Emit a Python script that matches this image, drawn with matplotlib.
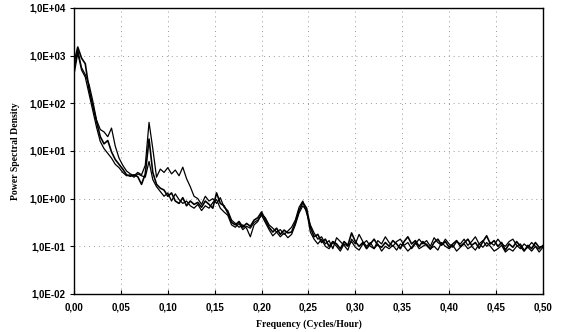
import matplotlib
matplotlib.use("Agg")
import matplotlib.pyplot as plt
from matplotlib.ticker import FuncFormatter, FixedLocator
import numpy as np

# frequency axis (cycles/hour), step 0.004
freq = [round(0.004 * i, 3) for i in range(126)]

# log10 of power spectral density, three records
log_psd_a = [
    2.85, 3.18, 2.95, 2.83, 2.30, 1.95, 1.62, 1.30, 1.15, 1.22,
    0.98, 0.82, 0.72, 0.62, 0.50, 0.47, 0.50, 0.46, 0.30, 0.52,
    1.25, 0.55, 0.30, 0.22, 0.18, 0.05, 0.12, -0.05, -0.10, 0.02,
    -0.15, -0.05, -0.12, -0.08, -0.18, -0.05, -0.12, -0.20, 0.12, -0.10,
    -0.15, -0.30, -0.50, -0.55, -0.48, -0.60, -0.52, -0.58, -0.45, -0.40,
    -0.28, -0.45, -0.60, -0.70, -0.62, -0.75, -0.66, -0.72, -0.70, -0.50,
    -0.25, -0.08, -0.20, -0.60, -0.80, -0.75, -0.92, -0.85, -1.00, -0.90,
    -0.95, -1.05, -0.90, -0.98, -0.72, -0.90, -1.00, -0.92, -1.05, -0.95,
    -0.85, -0.98, -1.02, -0.92, -1.00, -0.88, -0.95, -1.05, -0.90, -0.80,
    -0.95, -0.88, -1.00, -0.90, -0.98, -1.06, -0.92, -0.85, -0.97, -0.90,
    -1.02, -0.95, -0.88, -1.00, -0.93, -0.85, -0.98, -0.92, -1.04, -0.90,
    -0.78, -0.95, -0.88, -1.00, -0.92, -1.08, -0.95, -1.02, -0.90, -1.00,
    -1.10, -0.98, -1.05, -0.92, -1.02, -1.00,
]

log_psd_b = [
    2.70, 3.12, 2.75, 2.60, 2.40, 2.05, 1.65, 1.45, 1.40, 1.30,
    1.48, 1.10, 0.85, 0.70, 0.58, 0.52, 0.48, 0.55, 0.50, 0.70,
    1.60, 1.05, 0.45, 0.62, 0.55, 0.65, 0.52, 0.60, 0.48, 0.66,
    0.42, 0.25, 0.05, 0.00, -0.12, 0.05, -0.05, 0.00, -0.10, 0.02,
    -0.18, -0.25, -0.45, -0.52, -0.60, -0.55, -0.62, -0.80, -0.55, -0.48,
    -0.32, -0.40, -0.55, -0.62, -0.70, -0.65, -0.75, -0.68, -0.60, -0.45,
    -0.18, -0.05, -0.30, -0.55, -0.72, -0.85, -0.80, -0.95, -0.88, -1.05,
    -0.82, -0.90, -0.98, -1.08, -0.85, -0.95, -0.75, -0.90, -1.00, -0.92,
    -1.05, -0.88, -0.95, -0.80, -0.92, -1.00, -0.90, -0.85, -0.98, -0.92,
    -1.05, -0.95, -0.85, -0.95, -0.88, -1.00, -0.82, -0.92, -0.98, -0.85,
    -0.95, -1.02, -0.90, -0.95, -0.85, -0.98, -0.90, -0.80, -0.95, -0.88,
    -1.00, -0.92, -0.98, -0.85, -0.95, -1.00, -0.90, -0.85, -0.98, -1.05,
    -0.95, -1.02, -0.92, -1.00, -1.06, -0.98,
]

log_psd_c = [
    2.60, 3.05, 2.70, 2.55, 2.20, 1.85, 1.50, 1.20, 1.05, 0.95,
    0.85, 0.72, 0.65, 0.55, 0.48, 0.50, 0.45, 0.52, 0.48, 0.45,
    0.78, 0.40, 0.25, 0.15, 0.05, 0.12, -0.05, 0.10, -0.02, -0.10,
    -0.05, -0.15, -0.20, -0.12, -0.25, -0.15, -0.20, -0.08, -0.02, -0.20,
    -0.28, -0.35, -0.55, -0.60, -0.52, -0.65, -0.58, -0.62, -0.50, -0.45,
    -0.35, -0.50, -0.65, -0.78, -0.70, -0.80, -0.72, -0.82, -0.75, -0.55,
    -0.30, -0.15, -0.25, -0.70, -0.85, -0.95, -0.85, -1.00, -1.05, -0.92,
    -1.00, -1.10, -0.95, -1.00, -0.90, -1.02, -1.08, -0.95, -0.88, -1.00,
    -1.05, -0.95, -1.10, -1.00, -1.05, -0.98, -1.08, -0.95, -1.00, -1.10,
    -1.02, -0.92, -1.05, -1.00, -0.95, -1.05, -1.00, -1.08, -0.92, -1.00,
    -1.05, -0.98, -1.10, -1.02, -0.95, -1.05, -1.00, -1.08, -0.95, -1.02,
    -0.92, -1.00, -1.10, -1.05, -0.98, -1.12, -1.05, -1.10, -1.00, -0.95,
    -1.08, -1.02, -1.10, -1.00, -1.12, -1.02,
]

x_ticks = [0.00, 0.05, 0.10, 0.15, 0.20, 0.25, 0.30, 0.35, 0.40, 0.45, 0.50]
y_ticks = [1e-2, 1e-1, 1e0, 1e1, 1e2, 1e3, 1e4]

fig = plt.figure(figsize=(5.62, 3.32), dpi=100)
ax = fig.add_axes([0.1317, 0.1145, 0.8343, 0.8615])

for series, lw in [(log_psd_c, 0.9), (log_psd_b, 0.9), (log_psd_a, 1.2)]:
    ax.plot(freq, 10 ** np.array(series), color='black', linewidth=lw)

ax.set_yscale('log')
ax.set_xlim(0, 0.5)
ax.set_ylim(1e-2, 1e4)
ax.xaxis.set_major_locator(FixedLocator(x_ticks))
ax.yaxis.set_major_locator(FixedLocator(y_ticks))
ax.yaxis.set_minor_locator(FixedLocator([]))

ax.xaxis.set_major_formatter(FuncFormatter(lambda v, p: f"{v:.2f}".replace('.', ',')))
ax.yaxis.set_major_formatter(
    FuncFormatter(lambda v, p: "1,0E{:+03d}".format(int(round(np.log10(v))))))

ax.grid(True, which='major', color='#999999', linestyle=(0, (1, 4)), linewidth=0.7)

for lab in ax.get_xticklabels() + ax.get_yticklabels():
    lab.set_fontfamily('Liberation Sans')
    lab.set_fontsize(7)
    lab.set_fontweight('bold')

ax.tick_params(axis='x', direction='in', length=3, pad=6)
ax.tick_params(axis='y', direction='out', length=3, pad=3)

for sp in ax.spines.values():
    sp.set_linewidth(1.0)

ax.set_xlabel('Frequency (Cycles/Hour)', fontfamily='Liberation Serif',
              fontweight='bold', fontsize=7, labelpad=5)
ax.set_ylabel('Power Spectral Density', fontfamily='Liberation Serif',
              fontweight='bold', fontsize=7, labelpad=7)

fig.savefig('out.png', dpi=100)
